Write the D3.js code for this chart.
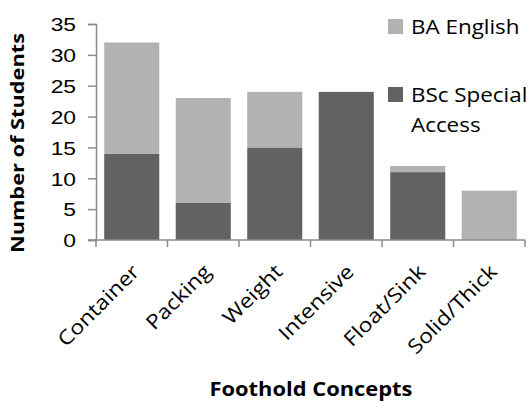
<!DOCTYPE html>
<html>
<head>
<meta charset="utf-8">
<script src="https://cdn.jsdelivr.net/npm/d3@7/dist/d3.min.js"></script>
<style>
  html, body { margin: 0; padding: 0; background: #fff; }
  svg { display: block; font-family: "Open Sans", "DejaVu Sans", sans-serif; }
</style>
</head>
<body>
<svg id="chart" width="530" height="402"></svg>
<script>
// Foothold concepts and student counts per programme
const categories = ["Container", "Packing", "Weight", "Intensive", "Float/Sink", "Solid/Thick"];
const bscSpecialAccess = [14, 6, 15, 24, 11, 0];
const baEnglish = [18, 17, 9, 0, 1, 8];
const seriesNames = ["BSc Special Access", "BA English"];
const yTicks = [0, 5, 10, 15, 20, 25, 30, 35];

const colors = { "BSc Special Access": "#626262", "BA English": "#b2b2b2" };
const axisColor = "#8c8c8c";

const svg = d3.select("#chart");
const margin = { left: 96, right: 5, top: 24, bottom: 162 };
const W = 530, H = 402;

// Widen a text selection horizontally by a factor (glyphs and spacing)
function widen(sel, factor) {
  sel.each(function () {
    const len = this.getComputedTextLength();
    d3.select(this).attr("textLength", len * factor).attr("lengthAdjust", "spacingAndGlyphs");
  });
}

const x = d3.scaleBand()
  .domain(categories)
  .range([margin.left, W - margin.right])
  .paddingInner(0.23)
  .paddingOuter(0.115);

const y = d3.scaleLinear().domain([0, 35]).range([H - margin.bottom, margin.top]);

const rows = categories.map((c, i) => ({
  category: c,
  "BSc Special Access": bscSpecialAccess[i],
  "BA English": baEnglish[i]
}));

const stacked = d3.stack().keys(seriesNames)(rows);

// Stacked bars
svg.append("g")
  .selectAll("g")
  .data(stacked)
  .join("g")
  .attr("fill", d => colors[d.key])
  .selectAll("rect")
  .data(d => d.filter(p => p[1] - p[0] > 0))
  .join("rect")
  .attr("x", d => x(d.data.category))
  .attr("width", x.bandwidth())
  .attr("y", d => y(d[1]))
  .attr("height", d => y(d[0]) - y(d[1]));

// Y axis
const yAxis = svg.append("g")
  .attr("transform", `translate(${margin.left},0)`)
  .call(d3.axisLeft(y).tickValues(yTicks).tickSize(8).tickPadding(12));
yAxis.select(".domain").attr("stroke", axisColor).attr("stroke-width", 1.5);
yAxis.selectAll(".tick line").attr("stroke", axisColor).attr("stroke-width", 1.5);
yAxis.selectAll(".tick text")
  .attr("fill", "#000")
  .style("font-size", "19px")
  .attr("dy", "0.36em")
  .call(widen, 1.2);

// X axis: category boundary ticks
const xAxisG = svg.append("g").attr("transform", `translate(0,${y(0)})`);
xAxisG.append("line")
  .attr("x1", margin.left - 8).attr("x2", W - margin.right)
  .attr("y1", 0).attr("y2", 0)
  .attr("stroke", axisColor).attr("stroke-width", 1.5);
const step = x.step();
const boundaries = d3.range(categories.length + 1).map(i => x.range()[0] + i * step);
xAxisG.selectAll("line.tick")
  .data(boundaries)
  .join("line")
  .attr("class", "tick")
  .attr("x1", d => d).attr("x2", d => d)
  .attr("y1", 0).attr("y2", 7)
  .attr("stroke", axisColor).attr("stroke-width", 1.5);

// Rotated category labels
xAxisG.selectAll("text.cat")
  .data(categories)
  .join("text")
  .attr("class", "cat")
  .attr("text-anchor", "end")
  .attr("transform", d => `translate(${x(d) + x.bandwidth() / 2 + 9},${33}) rotate(-45)`)
  .style("font-size", "20px")
  .attr("fill", "#000")
  .text(d => d)
  .call(widen, 1.15);

// Axis titles
svg.append("text")
  .attr("transform", `translate(24,143) rotate(-90)`)
  .attr("text-anchor", "middle")
  .style("font-size", "18px")
  .style("font-weight", "bold")
  .text("Number of Students")
  .attr("textLength", 220)
  .attr("lengthAdjust", "spacingAndGlyphs");

svg.append("text")
  .attr("x", 311)
  .attr("y", 396)
  .attr("text-anchor", "middle")
  .style("font-size", "19.5px")
  .style("font-weight", "bold")
  .text("Foothold Concepts")
  .attr("textLength", 203)
  .attr("lengthAdjust", "spacingAndGlyphs");

// Legend
const legend = svg.append("g");
const legendItems = [
  { key: "BA English", lines: ["BA English"], y: 19 },
  { key: "BSc Special Access", lines: ["BSc Special", "Access"], y: 87 }
];
legendItems.forEach(item => {
  legend.append("rect")
    .attr("x", 388).attr("y", item.y)
    .attr("width", 15).attr("height", 15)
    .attr("fill", colors[item.key]);
  item.lines.forEach((line, j) => {
    legend.append("text")
      .attr("x", 411)
      .attr("y", item.y + 15 + j * 30)
      .style("font-size", "20px")
      .attr("fill", "#000")
      .text(line)
      .call(widen, 1.12);
  });
});
</script>
</body>
</html>
